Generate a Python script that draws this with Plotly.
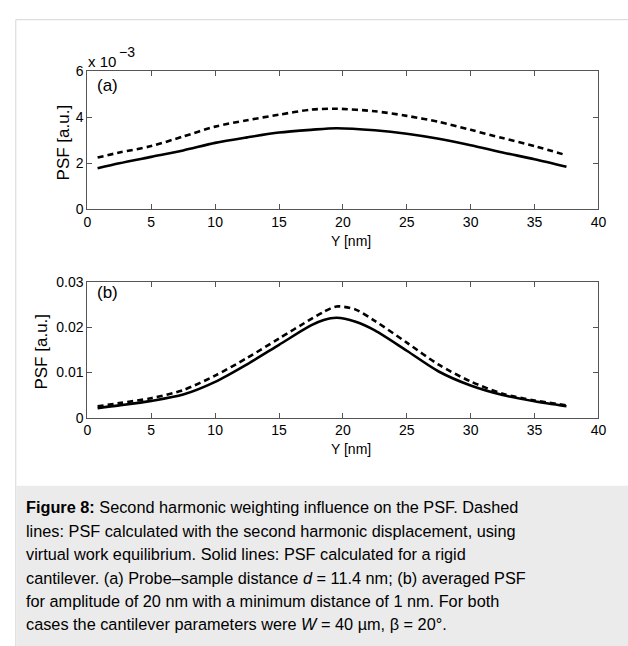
import plotly.graph_objects as go

W, H = 628, 646

# ---- data ----
y_nm = [0.8, 2.5, 5, 7.5, 10, 12.5, 15, 17.5, 19.5, 22.5, 25, 27.5, 30, 32.5, 35, 37.5]
a_rigid = [1.77e-3, 1.99e-3, 2.27e-3, 2.55e-3, 2.88e-3, 3.12e-3, 3.33e-3, 3.45e-3, 3.52e-3,
           3.43e-3, 3.28e-3, 3.06e-3, 2.78e-3, 2.46e-3, 2.17e-3, 1.84e-3]
a_second = [2.24e-3, 2.46e-3, 2.74e-3, 3.16e-3, 3.59e-3, 3.87e-3, 4.11e-3, 4.33e-3, 4.37e-3,
            4.26e-3, 4.06e-3, 3.80e-3, 3.45e-3, 3.09e-3, 2.74e-3, 2.34e-3]

y_nm_b = [0.8, 2.5, 5, 7.5, 10, 12.5, 15, 17.5, 18.5, 19.5, 21, 22.5, 25, 27.5, 30, 32.5, 35, 37.5]
b_rigid = [0.0021, 0.0027, 0.0037, 0.0051, 0.0079, 0.0118, 0.0161, 0.0204, 0.0216, 0.0221, 0.0212,
           0.0193, 0.0148, 0.0102, 0.0071, 0.0050, 0.0036, 0.0025]
b_second = [0.0025, 0.0032, 0.0043, 0.0061, 0.0093, 0.0132, 0.0175, 0.0218, 0.0234, 0.0246, 0.0239,
            0.0214, 0.0166, 0.0117, 0.0080, 0.0053, 0.0038, 0.0027]

x_ticks = [0, 5, 10, 15, 20, 25, 30, 35, 40]
a_tickvals = [0, 0.002, 0.004, 0.006]
a_ticktext = ["0", "2", "4", "6"]
b_tickvals = [0, 0.01, 0.02, 0.03]
b_ticktext = ["0", "0.01", "0.02", "0.03"]

caption_lines = [
    "<b>Figure 8:</b> Second harmonic weighting influence on the PSF. Dashed",
    "lines: PSF calculated with the second harmonic displacement, using",
    "virtual work equilibrium. Solid lines: PSF calculated for a rigid",
    "cantilever. (a) Probe\u2013sample distance <i>d</i> = 11.4 nm; (b) averaged PSF",
    "for amplitude of 20 nm with a minimum distance of 1 nm. For both",
    "cases the cantilever parameters were <i>W</i> = 40 \u00b5m, \u03b2 = 20\u00b0.",
]

FONT = "Liberation Sans, Arial, Helvetica, sans-serif"

def px(x):
    return x / W

def py(y):
    return 1 - y / H

fig = go.Figure()
line_w = 2.6
dash = "6px,4px"
fig.add_trace(go.Scatter(x=y_nm, y=a_second, mode="lines", line=dict(color="black", width=line_w, dash=dash, shape="spline", smoothing=0.8), xaxis="x", yaxis="y", showlegend=False))
fig.add_trace(go.Scatter(x=y_nm, y=a_rigid, mode="lines", line=dict(color="black", width=line_w, shape="spline", smoothing=0.8), xaxis="x", yaxis="y", showlegend=False))
fig.add_trace(go.Scatter(x=y_nm_b, y=b_second, mode="lines", line=dict(color="black", width=line_w, dash=dash, shape="spline", smoothing=0.8), xaxis="x2", yaxis="y2", showlegend=False))
fig.add_trace(go.Scatter(x=y_nm_b, y=b_rigid, mode="lines", line=dict(color="black", width=line_w, shape="spline", smoothing=0.8), xaxis="x2", yaxis="y2", showlegend=False))

xdom = [px(85), px(606)]
common_x = dict(range=[0, 40], tickvals=x_ticks, ticks="inside", ticklen=5, tickcolor="#555555",
                showline=True, linecolor="#555555", linewidth=1, mirror="ticks", showgrid=False,
                zeroline=False, tickfont=dict(family=FONT, size=14, color="black"), domain=xdom)
common_y = dict(ticks="inside", ticklen=5, tickcolor="#555555", showline=True, linecolor="#555555",
                linewidth=1, mirror="ticks", showgrid=False, zeroline=False,
                tickfont=dict(family=FONT, size=14, color="black"))

fig.update_layout(
    width=W, height=H, margin=dict(l=0, r=0, t=0, b=0),
    paper_bgcolor="white", plot_bgcolor="white",
    xaxis=dict(common_x, anchor="y"),
    yaxis=dict(common_y, range=[0, 0.006], tickvals=a_tickvals, ticktext=a_ticktext,
               domain=[py(206), py(65)], anchor="x"),
    xaxis2=dict(common_x, anchor="y2"),
    yaxis2=dict(common_y, range=[0, 0.03], tickvals=b_tickvals, ticktext=b_ticktext,
                domain=[py(420), py(281)], anchor="x2"),
)

# frame and caption background
fig.add_shape(type="rect", xref="paper", yref="paper", x0=px(12), x1=px(640), y0=py(660), y1=py(12),
              line=dict(color="#d6d6d6", width=1), fillcolor="rgba(0,0,0,0)", layer="below")
fig.add_shape(type="rect", xref="paper", yref="paper", x0=px(12.5), x1=px(640), y0=py(660), y1=py(490),
              line=dict(width=0), fillcolor="#ebebeb", layer="below")

def ann(text, x, y, size=14, xanchor="center", yanchor="middle", angle=0):
    fig.add_annotation(text=text, x=px(x), y=py(y), xref="paper", yref="paper", showarrow=False,
                       xanchor=xanchor, yanchor=yanchor, textangle=angle,
                       font=dict(family=FONT, size=size, color="black"))

# axis titles & labels
ann("Y [nm]", 354, 239)
ann("Y [nm]", 354, 452)
ann("PSF [a.u.]", 61, 138, size=17, angle=-90)
ann("PSF [a.u.]", 38, 352, size=17, angle=-90)
ann("(a)", 93, 79, size=17, xanchor="left")
ann("(b)", 93, 292, size=17, xanchor="left")
ann("x 10", 84, 55, size=15, xanchor="left")
ann("\u22123", 115, 45, size=14, xanchor="left")

# caption
baselines = [517, 541, 565, 589, 613, 637]
for t, b in zip(caption_lines, baselines):
    ann(t, 20, b - 5, size=16.3, xanchor="left")

fig.write_html("out.html")
